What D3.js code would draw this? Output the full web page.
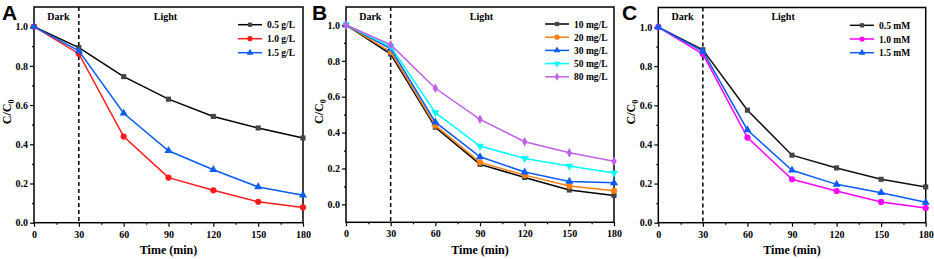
<!DOCTYPE html>
<html>
<head>
<meta charset="utf-8">
<script src="https://cdn.jsdelivr.net/npm/d3@7"></script>
<style>
  body { margin: 0; background: #fff; }
  text { font-family: "Liberation Serif", "Times New Roman", serif; font-weight: bold; }
</style>
</head>
<body>
<div id="chart"></div>
<script>
// time points (min)
const times = [0, 30, 60, 90, 120, 150, 180];
const xTicks = [0, 30, 60, 90, 120, 150, 180];

// Panel A: catalyst dosage
const labelsA = ["0.5 g/L", "1.0 g/L", "1.5 g/L"];
const dose05 = [1.0, 0.893, 0.745, 0.63, 0.542, 0.483, 0.432];
const dose10 = [1.0, 0.862, 0.439, 0.23, 0.165, 0.107, 0.078];
const dose15 = [1.0, 0.876, 0.558, 0.367, 0.27, 0.182, 0.14];

// Panel B: initial concentration
const labelsB = ["10 mg/L", "20 mg/L", "30 mg/L", "50 mg/L", "80 mg/L"];
const conc10 = [1.0, 0.838, 0.43, 0.223, 0.15, 0.08, 0.05];
const conc20 = [1.0, 0.85, 0.44, 0.234, 0.163, 0.102, 0.076];
const conc30 = [1.0, 0.868, 0.458, 0.265, 0.18, 0.128, 0.12];
const conc50 = [1.0, 0.88, 0.511, 0.325, 0.256, 0.214, 0.175];
const conc80 = [1.0, 0.89, 0.647, 0.474, 0.349, 0.288, 0.24];

// Panel C: oxidant concentration
const labelsC = ["0.5 mM", "1.0 mM", "1.5 mM"];
const ox05 = [1.0, 0.884, 0.575, 0.345, 0.28, 0.222, 0.183];
const ox10 = [1.0, 0.862, 0.435, 0.222, 0.162, 0.106, 0.075];
const ox15 = [1.0, 0.876, 0.474, 0.268, 0.196, 0.153, 0.104];

const svg = d3.select("#chart").append("svg")
    .attr("width", 934)
    .attr("height", 259);

const triDown = {
    draw(ctx, size) { d3.symbolTriangle.draw({
        moveTo: (x, y) => ctx.moveTo(x, -y),
        lineTo: (x, y) => ctx.lineTo(x, -y),
        closePath: () => ctx.closePath()
    }, size); }
};

function drawPanel(p) {
    const x = d3.scaleLinear().domain([0, 180]).range([p.left, p.right]);
    const y = d3.scaleLinear().domain(p.yDomain).range([p.bottom, p.top]);
    const g = svg.append("g");

    // panel letter
    g.append("text")
        .attr("x", p.letterX).attr("y", 20)
        .style("font-family", "'Liberation Sans', Arial, sans-serif")
        .style("font-size", "21px")
        .text(p.letter);

    // dashed dark/light separator
    g.append("line")
        .attr("x1", x(30)).attr("x2", x(30))
        .attr("y1", p.top).attr("y2", p.bottom)
        .attr("stroke", "#000").attr("stroke-width", 1.5)
        .attr("stroke-dasharray", "4,3");

    g.append("text").attr("x", x(15) + 2).attr("y", 20)
        .attr("text-anchor", "middle").style("font-size", "10px").text("Dark");
    g.append("text").attr("x", x(p.lightAt)).attr("y", 20)
        .attr("text-anchor", "middle").style("font-size", "10px").text("Light");

    // axes
    const xAxis = g.append("g").attr("transform", `translate(0,${p.bottom})`)
        .call(d3.axisBottom(x).tickValues(xTicks).tickSize(4).tickFormat(d3.format("d")));
    g.append("g").attr("transform", `translate(0,${p.bottom})`)
        .call(d3.axisBottom(x).tickValues(d3.range(15, 180, 30)).tickSize(2).tickFormat(""));
    const yAxis = g.append("g").attr("transform", `translate(${p.left},0)`)
        .call(d3.axisLeft(y).tickValues(p.yTicks).tickSize(4).tickFormat(d3.format(".1f")));
    g.append("g").attr("transform", `translate(${p.left},0)`)
        .call(d3.axisLeft(y).tickValues(p.yMinor).tickSize(2).tickFormat(""));
    g.selectAll(".domain").remove();
    g.selectAll(".tick line").attr("stroke", "#000").attr("stroke-width", 1.2);
    xAxis.selectAll("text").attr("dy", null).attr("y", 15).style("font-size", "10px").attr("fill", "#000");
    yAxis.selectAll("text").attr("x", -6).style("font-size", "10px").attr("fill", "#000");

    // frame
    g.append("rect")
        .attr("x", p.left).attr("y", p.top)
        .attr("width", p.right - p.left).attr("height", p.bottom - p.top)
        .attr("fill", "none").attr("stroke", "#000").attr("stroke-width", 1.5);

    // axis titles
    g.append("text").attr("x", (p.left + p.right) / 2).attr("y", 254)
        .attr("text-anchor", "middle").style("font-size", "12px").text("Time (min)");
    const yt = g.append("text")
        .attr("transform", `translate(${p.left - 23},${(p.top + p.bottom) / 2 - 3}) rotate(-90)`)
        .attr("text-anchor", "middle").style("font-size", "12px");
    yt.append("tspan").text("C/C");
    yt.append("tspan").attr("dy", 3).style("font-size", "8px").text("0");

    // series
    const line = d3.line().x((d, i) => x(times[i])).y(d => y(d));
    p.series.forEach((s, k) => {
        g.append("path").datum(s.values)
            .attr("fill", "none").attr("stroke", s.color).attr("stroke-width", 1.5)
            .attr("d", line);
        g.selectAll(null).data(s.values).enter().append("path")
            .attr("transform", (d, i) => `translate(${x(times[i])},${y(d)})`)
            .attr("d", d3.symbol().type(s.symbol).size(s.size))
            .attr("fill", s.markColor || s.color);

        // legend
        const ly = p.legendY + k * p.legendStep;
        g.append("line").attr("x1", p.legendX).attr("x2", p.legendX + 24)
            .attr("y1", ly).attr("y2", ly)
            .attr("stroke", s.color).attr("stroke-width", 1.5);
        g.append("path").attr("transform", `translate(${p.legendX + 12},${ly})`)
            .attr("d", d3.symbol().type(s.symbol).size(s.size * 0.7))
            .attr("fill", s.markColor || s.color);
        g.append("text").attr("x", p.legendX + 29).attr("y", ly + 3.5)
            .style("font-size", "9.5px").text(s.label);
    });
}

drawPanel({
    letter: "A", letterX: 2, lightAt: 88,
    left: 34, right: 303, top: 7, bottom: 222.7,
    yDomain: [0, 1.1], yTicks: [0, 0.2, 0.4, 0.6, 0.8, 1.0], yMinor: [0.1, 0.3, 0.5, 0.7, 0.9],
    legendX: 238, legendY: 24.7, legendStep: 14,
    series: [
        { label: labelsA[0], values: dose05, color: "#000", markColor: "#444", symbol: d3.symbolSquare, size: 26 },
        { label: labelsA[1], values: dose10, color: "#ff1a1a", symbol: d3.symbolCircle, size: 30 },
        { label: labelsA[2], values: dose15, color: "#0a5cf2", symbol: d3.symbolTriangle, size: 28 }
    ]
});

drawPanel({
    letter: "B", letterX: 312, lightAt: 91,
    left: 346, right: 614, top: 7, bottom: 222.3,
    yDomain: [-0.1, 1.1], yTicks: [0, 0.2, 0.4, 0.6, 0.8, 1.0], yMinor: [0.1, 0.3, 0.5, 0.7, 0.9],
    legendX: 545, legendY: 24, legendStep: 13.2,
    series: [
        { label: labelsB[0], values: conc10, color: "#000", markColor: "#444", symbol: d3.symbolSquare, size: 26 },
        { label: labelsB[1], values: conc20, color: "#ff7f0a", symbol: d3.symbolCircle, size: 30 },
        { label: labelsB[2], values: conc30, color: "#0a5cf2", symbol: d3.symbolTriangle, size: 28 },
        { label: labelsB[3], values: conc50, color: "#00ffff", symbol: triDown, size: 28 },
        { label: labelsB[4], values: conc80, color: "#c160e8", symbol: d3.symbolDiamond, size: 26 }
    ]
});

drawPanel({
    letter: "C", letterX: 622, lightAt: 84,
    left: 658.3, right: 925.7, top: 7.5, bottom: 222.7,
    yDomain: [0, 1.1], yTicks: [0, 0.2, 0.4, 0.6, 0.8, 1.0], yMinor: [0.1, 0.3, 0.5, 0.7, 0.9],
    legendX: 850, legendY: 25.3, legendStep: 13.7,
    series: [
        { label: labelsC[0], values: ox05, color: "#111", markColor: "#444", symbol: d3.symbolSquare, size: 26 },
        { label: labelsC[1], values: ox10, color: "#ff00ff", symbol: d3.symbolCircle, size: 30 },
        { label: labelsC[2], values: ox15, color: "#0a5cf2", symbol: d3.symbolTriangle, size: 28 }
    ]
});
</script>
</body>
</html>
